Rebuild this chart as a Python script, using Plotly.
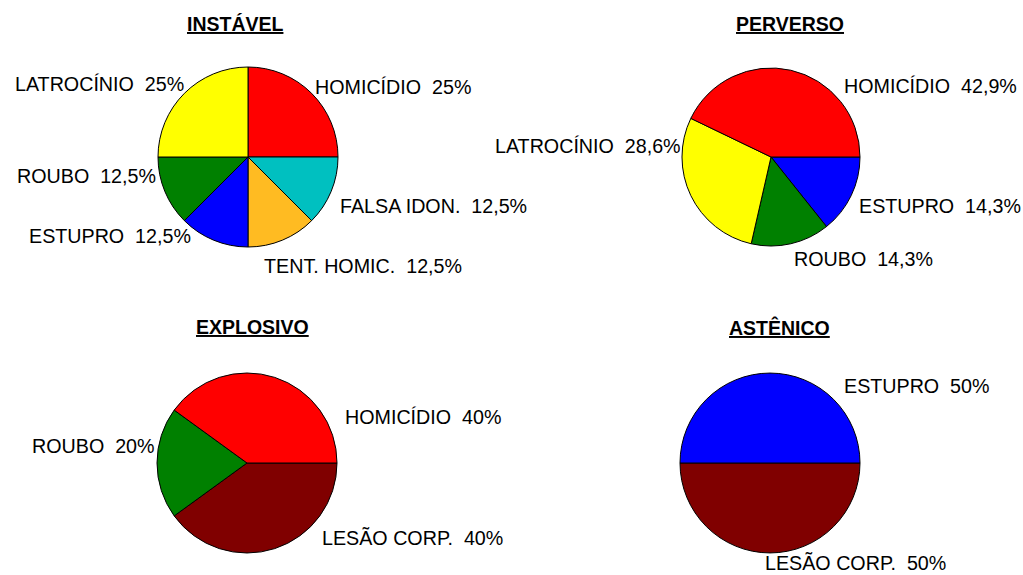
import plotly.graph_objects as go

W, H = 1023, 575

# ---- data (slices listed clockwise, starting at the pie's start angle) ----
instavel_labels = ["HOMICÍDIO", "FALSA IDON.", "TENT. HOMIC.", "ESTUPRO", "ROUBO", "LATROCÍNIO"]
instavel_values = [25, 12.5, 12.5, 12.5, 12.5, 25]

perverso_labels = ["ESTUPRO", "ROUBO", "LATROCÍNIO", "HOMICÍDIO"]
perverso_values = [14.3, 14.3, 28.6, 42.9]

explosivo_labels = ["LESÃO CORP.", "ROUBO", "HOMICÍDIO"]
explosivo_values = [40, 20, 40]

astenico_labels = ["LESÃO CORP.", "ESTUPRO"]
astenico_values = [50, 50]

titles = ["INSTÁVEL", "PERVERSO", "EXPLOSIVO", "ASTÊNICO"]

# ---- styles ----
colour_of = {
    "HOMICÍDIO": "#FF0000",
    "FALSA IDON.": "#00C0C0",
    "TENT. HOMIC.": "#FFBB22",
    "ESTUPRO": "#0000FF",
    "ROUBO": "#008000",
    "LATROCÍNIO": "#FFFF00",
    "LESÃO CORP.": "#800000",
}

FONT = "Liberation Sans, Arial, sans-serif"
FS = 19.7

def px(x):
    return x / W

def py(y):
    return 1 - y / H

def fmt(v):
    return f"{v:g}".replace(".", ",") + "%"

# pie geometry: centre (x, y), radius, rotation (start angle, clockwise from 12 o'clock)
pies = [
    (instavel_labels, instavel_values, (248, 157), 90, 0),
    (perverso_labels, perverso_values, (771, 157), 89, 90),
    (explosivo_labels, explosivo_values, (247, 463), 90, 90),
    (astenico_labels, astenico_values, (770, 463), 90, 90),
]

# label placement per pie: (x, y, anchor) in pixels, same order as the slices
label_pos = [
    [(313, 87, "left"), (338, 206, "left"), (262, 266, "left"), (193, 236, "right"), (158, 176, "right"), (186, 84, "right")],
    [(857, 206, "left"), (792, 259, "left"), (683, 146, "right"), (842, 86, "left")],
    [(320, 538, "left"), (157, 446, "right"), (343, 417, "left")],
    [(763, 563, "left"), (842, 386, "left")],
]

title_pos = [(235, 24), (790, 24), (252, 327), (779, 327)]

fig = go.Figure()
annotations = []
for (labels, values, (cx, cy), r, rot), lp in zip(pies, label_pos):
    fig.add_trace(go.Pie(
        labels=labels,
        values=values,
        sort=False,
        direction="clockwise",
        rotation=rot,
        textinfo="none",
        hoverinfo="label+percent",
        marker=dict(colors=[colour_of[l] for l in labels], line=dict(color="black", width=1)),
        domain=dict(x=[px(cx - r), px(cx + r)], y=[py(cy + r), py(cy - r)]),
        showlegend=False,
    ))
    for lab, val, (x, y, anc) in zip(labels, values, lp):
        annotations.append(dict(
            x=px(x), y=py(y), xref="paper", yref="paper",
            text=f"{lab}&nbsp;&nbsp;{fmt(val)}",
            showarrow=False, xanchor=anc, yanchor="middle",
            font=dict(family=FONT, size=FS, color="black"),
        ))

for t, (x, y) in zip(titles, title_pos):
    annotations.append(dict(
        x=px(x), y=py(y), xref="paper", yref="paper",
        text=f"<b><u>{t}</u></b>",
        showarrow=False, xanchor="center", yanchor="middle",
        font=dict(family=FONT, size=19.5, color="black"),
    ))

fig.update_layout(
    width=W, height=H,
    margin=dict(l=0, r=0, t=0, b=0),
    paper_bgcolor="white",
    plot_bgcolor="white",
    annotations=annotations,
)

fig.write_html(
    "out.html",
    config={"displayModeBar": False},
    post_script="document.body.style.margin='0';document.body.style.overflow='hidden';",
)
